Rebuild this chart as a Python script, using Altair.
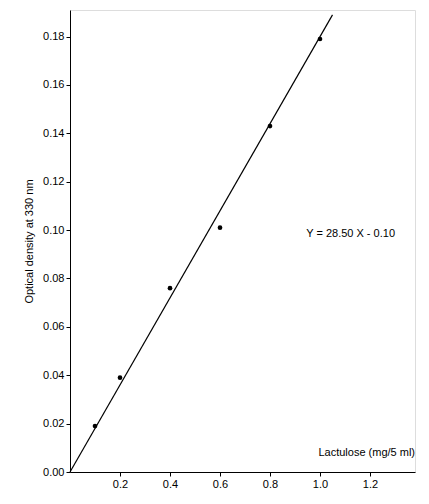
import pandas as pd
import altair as alt

# Measured points
lactulose = [0.1, 0.2, 0.4, 0.6, 0.8, 1.0]
density = [0.019, 0.039, 0.076, 0.101, 0.143, 0.179]

# Fitted line end points
fit_x = [0.0, 1.05]
fit_y = [0.0, 0.189]

pts = pd.DataFrame({"x": lactulose, "y": density})
fit = pd.DataFrame({"x": fit_x, "y": fit_y})

xs = alt.Scale(domain=[0, 1.38], nice=False)
ys = alt.Scale(domain=[0, 0.191], nice=False)
font = "Liberation Sans"

xax = alt.Axis(values=[0.2, 0.4, 0.6, 0.8, 1.0, 1.2], format=".1f", title=None,
               grid=False, tickSize=4, labelFontSize=11, labelFont=font,
               labelColor="black", domainColor="black", tickColor="black")
yax = alt.Axis(values=[i * 0.02 for i in range(10)], format=".2f",
               title="Optical density at 330 nm", grid=False, tickSize=4,
               labelFontSize=11, labelFont=font, titleFont=font, titleFontSize=11,
               titleFontWeight="normal", labelColor="black", domainColor="black",
               tickColor="black", titlePadding=8)

line = alt.Chart(fit).mark_line(color="black", strokeWidth=1.2).encode(
    x=alt.X("x:Q", scale=xs, axis=xax), y=alt.Y("y:Q", scale=ys, axis=yax))
dots = alt.Chart(pts).mark_circle(color="black", size=22, opacity=1).encode(
    x=alt.X("x:Q", scale=xs), y=alt.Y("y:Q", scale=ys))

labels = pd.DataFrame({"x": [1.3, 1.38], "y": [0.0985, 0.008],
                       "t": ["Y = 28.50 X - 0.10", "Lactulose (mg/5 ml)"]})
txt = alt.Chart(labels).mark_text(font=font, fontSize=11, color="black",
                                  align="right").encode(
    x=alt.X("x:Q", scale=xs), y=alt.Y("y:Q", scale=ys), text="t:N")

chart = (line + dots + txt).properties(
    width=345, height=462, autosize="none",
    padding={"left": 62, "top": 2, "right": 6, "bottom": 24},
).configure_view(stroke=None).configure(background="white")

chart.save("out.html", embed_options={"renderer": "svg", "actions": False})
